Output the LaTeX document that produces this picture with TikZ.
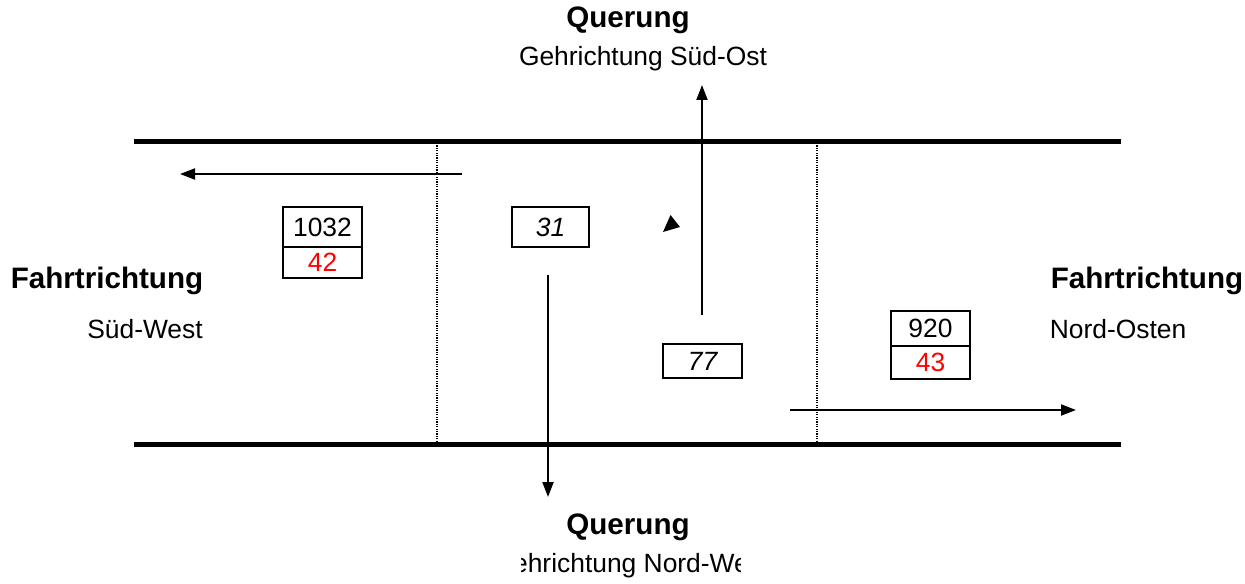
\documentclass[tikz,border=0pt]{standalone}
\usepackage{fontspec}
\setmainfont{Liberation Sans}
\usetikzlibrary{arrows.meta}
\begin{document}
\begin{tikzpicture}[x=0.5pt, y=-0.5pt,
    road/.style={line width=2.5pt},
    border/.style={line width=1pt, dash pattern=on 0.6pt off 0.6pt},
    arr/.style={line width=1pt, -{Triangle[length=7.5pt, width=5.5pt]}},
    txt/.style={font=\fontsize{13.2}{15}\selectfont, inner sep=0pt},
    head/.style={font=\fontsize{14.8}{17}\selectfont\bfseries, inner sep=0pt},
    cnt/.style={draw, line width=1.4pt, inner sep=0pt, minimum width=39.5pt, font=\fontsize{13.2}{15}\selectfont}
]
    \useasboundingbox (0,0) rectangle (1245,583);

    % Street edges and section borders
    \coordinate (tl) at (134,141);  \coordinate (tr) at (1121,141);
    \coordinate (bl) at (134,444);  \coordinate (br) at (1121,444);
    \draw[road] (tl) -- (tr);
    \draw[road] (bl) -- (br);
    \coordinate (d1t) at (437,143); \coordinate (d1b) at (437,442);
    \coordinate (d2t) at (817,143); \coordinate (d2b) at (817,442);
    \draw[border] (d1t) -- (d1b);
    \draw[border] (d2t) -- (d2b);

    % Flows
    \coordinate (swA) at (462,174);  \coordinate (swB) at (180,174);
    \coordinate (noA) at (790,410);  \coordinate (noB) at (1076,410);
    \coordinate (soA) at (702,315);  \coordinate (soB) at (702,85);
    \coordinate (nwA) at (548,275);  \coordinate (nwB) at (548,497);
    \draw[arr] (swA) -- (swB);
    \draw[arr] (noA) -- (noB);
    \draw[arr] (soA) -- (soB);
    \draw[arr] (nwA) -- (nwB);
    \fill (670.5,215) -- (663,232) -- (680,227) -- cycle;

    % Counts
    \node[cnt, minimum height=20pt] (c1032) at (322.5,227) {1032};
    \node[cnt, minimum height=15.5pt, text=red] (c42) at (322.5,262.5) {42};
    \node[cnt, minimum width=38.5pt, minimum height=20pt, font=\fontsize{13.2}{15}\selectfont\itshape] (c31) at (550.5,227) {31};
    \node[cnt, minimum height=17pt, font=\fontsize{13.2}{15}\selectfont\itshape] (c77) at (702.5,361) {77};
    \node[cnt, minimum height=17.5pt] (c920) at (930.5,328.5) {920};
    \node[cnt, minimum height=16.5pt, text=red] (c43) at (930.5,362.5) {43};

    % Labels
    \node[head] (qTop) at (628,20) {Querung};
    \node[txt] (gSO) at (643,59) {Gehrichtung Süd-Ost};
    \node[head] (fLeft) at (107,281) {Fahrtrichtung};
    \node[txt] (sw) at (145,329) {Süd-West};
    \node[head] (fRight) at (1147,281) {Fahrtrichtung};
    \node[txt] (no) at (1118,329) {Nord-Osten};
    \node[head] (qBot) at (628,527) {Querung};
    \begin{scope}
        \clip (521,550) rectangle (740,583);
        \node[txt] (gNW) at (631,566) {Gehrichtung Nord-West};
    \end{scope}
\end{tikzpicture}
\end{document}
